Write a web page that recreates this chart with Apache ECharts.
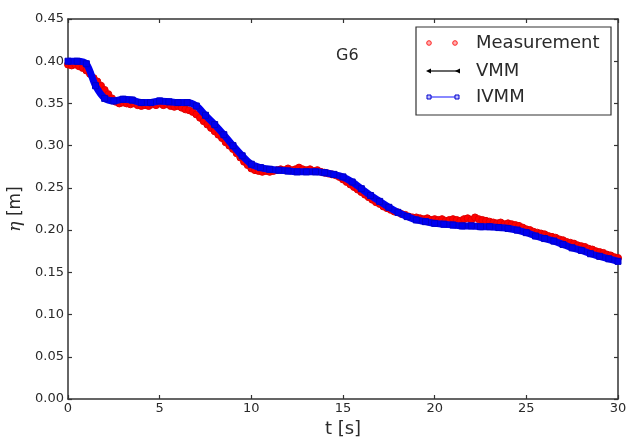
<!DOCTYPE html>
<html>
<head>
<meta charset="utf-8">
<script src="https://cdn.jsdelivr.net/npm/echarts@6/dist/echarts.min.js"></script>
<style>
html,body{margin:0;padding:0;background:#fff;}
#chart{width:626px;height:439px;}
</style>
</head>
<body>
<div id="chart"></div>
<script>
// ---- data ----
var xTicks = [0, 5, 10, 15, 20, 25, 30];
var yTicks = [0.00, 0.05, 0.10, 0.15, 0.20, 0.25, 0.30, 0.35, 0.40, 0.45];

// Measurement sampled every 0.2 s from t = 0 to 30
var measStep = 0.2;
var measurement = [
  0.396,0.395,0.396,0.394,0.392,0.389,0.385,0.380,0.376,0.371,
  0.366,0.361,0.356,0.352,0.350,0.351,0.350,0.349,0.350,0.348,
  0.347,0.348,0.347,0.349,0.348,0.350,0.348,0.349,0.347,0.346,
  0.347,0.345,0.343,0.342,0.340,0.337,0.333,0.329,0.325,0.321,
  0.317,0.313,0.309,0.304,0.300,0.296,0.291,0.286,0.281,0.277,
  0.273,0.271,0.270,0.269,0.270,0.269,0.270,0.271,0.272,0.271,
  0.273,0.271,0.272,0.274,0.272,0.271,0.272,0.270,0.271,0.269,
  0.268,0.267,0.266,0.265,0.263,0.260,0.257,0.254,0.251,0.248,
  0.245,0.242,0.239,0.236,0.233,0.231,0.228,0.226,0.224,0.222,
  0.221,0.219,0.218,0.216,0.215,0.215,0.214,0.213,0.214,0.212,
  0.213,0.212,0.213,0.211,0.212,0.213,0.212,0.211,0.213,0.214,
  0.212,0.215,0.213,0.212,0.211,0.210,0.209,0.208,0.209,0.207,
  0.208,0.207,0.206,0.205,0.203,0.201,0.200,0.198,0.197,0.196,
  0.195,0.193,0.192,0.191,0.189,0.188,0.186,0.185,0.184,0.182,
  0.181,0.180,0.178,0.177,0.175,0.174,0.173,0.171,0.170,0.168,
  0.167
];

// Model results sampled every 0.5 s from t = 0 to 30
var modelStep = 0.5;
var ivmm = [
  0.400,0.400,0.397,0.371,0.356,0.353,0.355,0.354,0.351,0.351,
  0.353,0.352,0.351,0.351,0.347,0.336,0.325,0.313,0.300,0.288,
  0.278,0.274,0.272,0.271,0.270,0.269,0.269,0.269,0.268,0.266,
  0.263,0.257,0.249,0.241,0.234,0.227,0.221,0.216,0.212,0.210,
  0.208,0.207,0.206,0.205,0.205,0.204,0.204,0.203,0.202,0.200,
  0.197,0.193,0.190,0.187,0.183,0.179,0.176,0.172,0.169,0.166,
  0.163
];
var vmm = [
  0.400,0.400,0.397,0.371,0.356,0.353,0.355,0.354,0.351,0.351,
  0.353,0.352,0.351,0.351,0.347,0.336,0.325,0.313,0.300,0.288,
  0.278,0.274,0.272,0.271,0.270,0.269,0.269,0.269,0.268,0.266,
  0.263,0.257,0.249,0.241,0.234,0.227,0.221,0.216,0.212,0.210,
  0.208,0.207,0.206,0.205,0.205,0.204,0.204,0.203,0.202,0.200,
  0.197,0.193,0.190,0.187,0.183,0.179,0.176,0.172,0.169,0.166,
  0.163
];

function pairs(arr, step) {
  return arr.map(function (v, i) { return [+(i * step).toFixed(3), v]; });
}

var FONT = 'DejaVu Sans';
var TXT = '#2a2a2a';
var AXC = '#333333';

var chart = echarts.init(document.getElementById('chart'), null, {renderer: 'canvas'});

function xAx(pos, labels) {
  return {
    type: 'value', position: pos, min: xTicks[0], max: xTicks[xTicks.length - 1], interval: 5,
    axisLine: {show: true, onZero: false, lineStyle: {color: AXC, width: 1.5}},
    axisTick: {show: true, inside: true, length: 4, lineStyle: {color: AXC, width: 1.2}},
    axisLabel: {show: labels, color: TXT, fontFamily: FONT, fontSize: 13, margin: 3},
    splitLine: {show: false},
    name: labels ? 't [s]' : '', nameLocation: 'middle', nameGap: 18,
    nameTextStyle: {color: TXT, fontFamily: FONT, fontSize: 18, verticalAlign: 'top'}
  };
}
function yAx(pos, labels) {
  return {
    type: 'value', position: pos, min: yTicks[0], max: yTicks[yTicks.length - 1], interval: 0.05,
    axisLine: {show: true, onZero: false, lineStyle: {color: AXC, width: 1.5}},
    axisTick: {show: true, inside: true, length: 4, lineStyle: {color: AXC, width: 1.2}},
    axisLabel: {show: labels, color: TXT, fontFamily: FONT, fontSize: 13, margin: 4,
      formatter: function (v) { return v.toFixed(2); }},
    splitLine: {show: false},
    name: labels ? '{i|η} [m]' : '', nameLocation: 'middle', nameGap: 42,
    nameTextStyle: {color: TXT, fontFamily: FONT, fontSize: 17,
      rich: {i: {fontStyle: 'italic', fontFamily: 'DejaVu Serif', fontSize: 17, color: TXT}}}
  };
}

var LX = 416, LY = 27, LW = 195, LH = 88;

chart.setOption({
  animation: false,
  backgroundColor: '#ffffff',
  grid: {left: 68, right: 8, top: 19, bottom: 40, containLabel: false, outerBoundsMode: 'none'},
  xAxis: [xAx('bottom', true), xAx('top', false)],
  yAxis: [yAx('left', true), yAx('right', false)],
  title: {
    text: 'G6', left: 331, top: 43,
    textStyle: {color: TXT, fontFamily: FONT, fontSize: 16, fontWeight: 'normal'}
  },
  series: [
    {
      name: 'Measurement', type: 'scatter', xAxisIndex: 0, yAxisIndex: 0,
      data: pairs(measurement, measStep), symbol: 'circle', symbolSize: 7,
      itemStyle: {color: '#ff0000', borderColor: '#e00000', borderWidth: 1, opacity: 1},
      z: 2
    },
    {
      name: 'VMM', type: 'line', xAxisIndex: 0, yAxisIndex: 0,
      data: pairs(vmm, modelStep), showSymbol: false, symbol: 'none',
      lineStyle: {color: '#000000', width: 1.5}, z: 3
    },
    {
      name: 'IVMM', type: 'line', xAxisIndex: 0, yAxisIndex: 0,
      data: pairs(ivmm, modelStep), smooth: 0.3, symbol: 'rect', symbolSize: 6, showSymbol: true,
      lineStyle: {color: '#0000f0', width: 7},
      itemStyle: {color: '#0000f0', borderColor: '#0000c8', borderWidth: 1},
      z: 4
    }
  ],
  graphic: [
    {type: 'rect', shape: {x: LX, y: LY, width: LW, height: LH},
     style: {fill: '#ffffff', stroke: '#333333', lineWidth: 1.2}, z: 100},
    // Measurement
    {type: 'circle', shape: {cx: 429, cy: 43, r: 2.3}, style: {fill: '#ffb0b0', stroke: '#ff2020', lineWidth: 1}, z: 101},
    {type: 'circle', shape: {cx: 455, cy: 43, r: 2.3}, style: {fill: '#ffb0b0', stroke: '#ff2020', lineWidth: 1}, z: 101},
    {type: 'text', x: 476, y: 43, style: {text: 'Measurement', fill: TXT, font: '18px "DejaVu Sans"', textVerticalAlign: 'middle'}, z: 101},
    // VMM
    {type: 'line', shape: {x1: 428, y1: 71, x2: 458, y2: 71}, style: {stroke: '#000000', lineWidth: 1.2}, z: 101},
    {type: 'polygon', shape: {points: [[426, 71], [431, 68.5], [431, 73.5]]}, style: {fill: '#000000'}, z: 101},
    {type: 'polygon', shape: {points: [[455, 71], [460, 68.5], [460, 73.5]]}, style: {fill: '#000000'}, z: 101},
    {type: 'text', x: 476, y: 71, style: {text: 'VMM', fill: TXT, font: '18px "DejaVu Sans"', textVerticalAlign: 'middle'}, z: 101},
    // IVMM
    {type: 'line', shape: {x1: 429, y1: 97, x2: 457, y2: 97}, style: {stroke: '#6060ff', lineWidth: 1.5}, z: 101},
    {type: 'rect', shape: {x: 427, y: 95, width: 4, height: 4}, style: {fill: '#c0c0ff', stroke: '#0000cc', lineWidth: 1}, z: 102},
    {type: 'rect', shape: {x: 455, y: 95, width: 4, height: 4}, style: {fill: '#c0c0ff', stroke: '#0000cc', lineWidth: 1}, z: 102},
    {type: 'text', x: 476, y: 97, style: {text: 'IVMM', fill: TXT, font: '18px "DejaVu Sans"', textVerticalAlign: 'middle'}, z: 101}
  ]
});
</script>
</body>
</html>
